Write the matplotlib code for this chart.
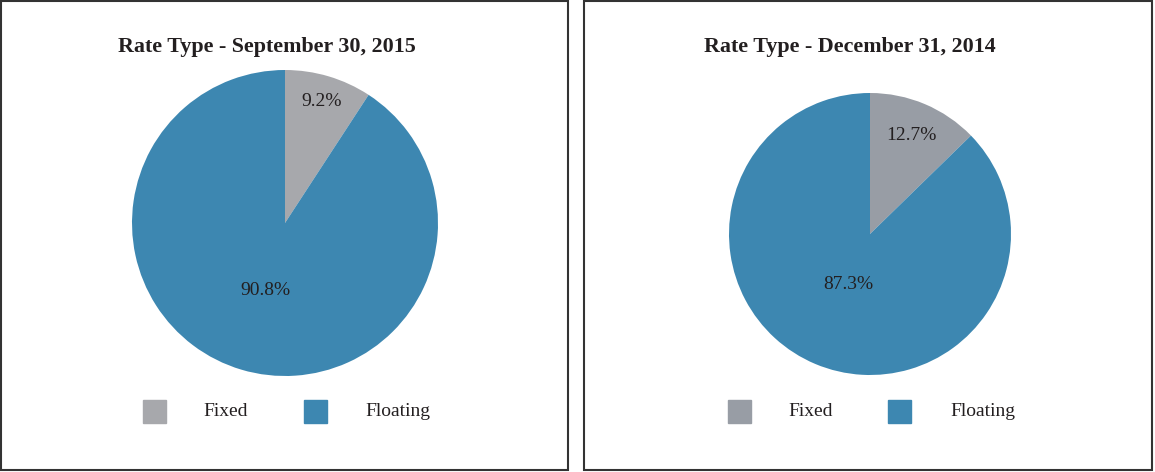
import matplotlib
matplotlib.use('Agg')
import matplotlib.pyplot as plt
from matplotlib.patches import Rectangle
import numpy as np

# data
labels = ['Fixed', 'Floating']
sep2015 = [9.2, 90.8]
dec2014 = [12.7, 87.3]
titles = ['Rate Type - September 30, 2015', 'Rate Type - December 31, 2014']

blue = '#3d87b1'
grey_l = '#a7a8ac'
grey_r = '#989da5'

plt.rcParams['font.family'] = ['Liberation Serif', 'DejaVu Serif']

W, H = 1155, 472
fig = plt.figure(figsize=(W/100, H/100), dpi=100)

def fx(x): return x / W
def fy(y): return 1 - y / H

# panel borders
for x0, x1 in [(1, 568), (584, 1152)]:
  fig.patches.append(Rectangle((fx(x0), fy(470)), fx(x1 - x0), (470 - 1) / H,
                               transform=fig.transFigure, fill=False,
                               edgecolor='#333333', linewidth=1.5))

def draw_pie(cx, cy, r, vals, cols, dists, title, tx, ty, leg):
  ax = fig.add_axes([fx(cx - r), fy(cy + r), fx(2*r), 2*r/H])
  wedges, _ = ax.pie(vals, colors=cols, startangle=90, counterclock=False,
                     wedgeprops=dict(linewidth=0))
  for w, v, d in zip(wedges, vals, dists):
    ang = np.deg2rad((w.theta1 + w.theta2) / 2)
    ax.text(d*np.cos(ang), d*np.sin(ang), '%.1f%%' % v, ha='center', va='center',
            fontsize=14, color='#231f20')
  ax.set_xlim(-1, 1); ax.set_ylim(-1, 1)
  ax.set_aspect('equal')
  ax.axis('off')
  fig.text(fx(tx), fy(ty), title, ha='center', va='center', fontsize=15.8,
           fontweight='bold', color='#231f20')
  # legend
  for (sx, lx), c, lab in zip(leg, cols, labels):
    fig.patches.append(Rectangle((fx(sx), fy(423)), fx(23), 23/H,
                                 transform=fig.transFigure, color=c))
    fig.text(fx(lx), fy(411), lab, ha='left', va='center', fontsize=14,
             color='#231f20')

draw_pie(285, 223, 153, sep2015, [grey_l, blue], [0.83, 0.46], titles[0], 267, 47,
         [(143, 203), (304, 365)])
draw_pie(870, 234, 141, dec2014, [grey_r, blue], [0.76, 0.39], titles[1], 850, 47,
         [(728, 788), (888, 950)])

fig.savefig('out.png', dpi=100)
